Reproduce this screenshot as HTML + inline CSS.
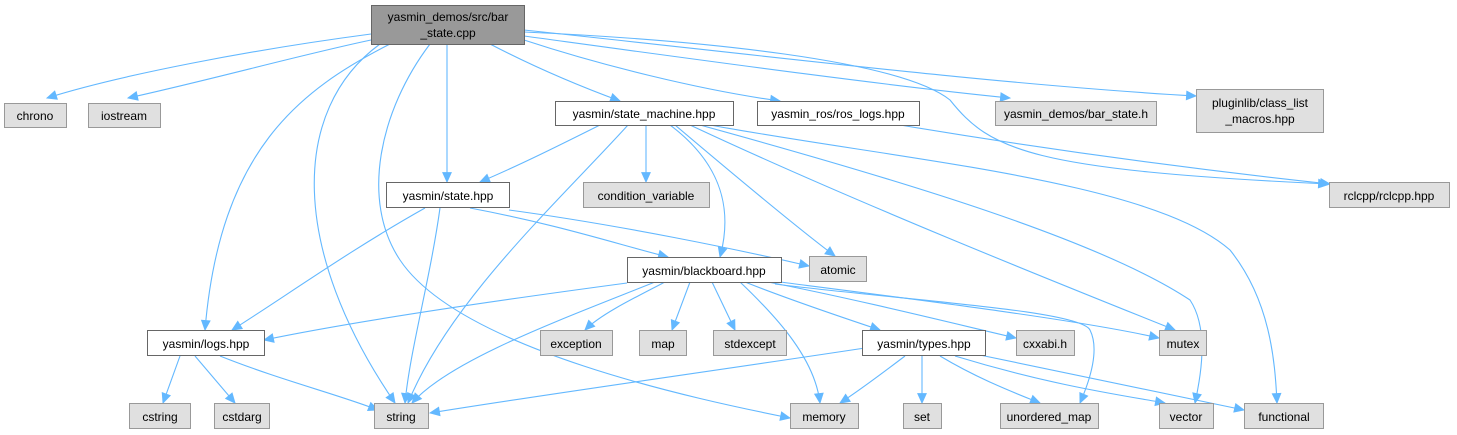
<!DOCTYPE html>
<html><head><meta charset="utf-8"><style>
html,body{margin:0;padding:0;background:#fff;}
svg{display:block;}
text{font-family:"Liberation Sans",sans-serif;font-size:12px;fill:#000;text-anchor:middle;}
.e{fill:none;stroke:#63b8ff;stroke-width:1.1;marker-end:url(#a);}
.g{fill:#e0e0e0;stroke:#999;}
.w{fill:#fff;stroke:#666;}
</style></head><body>
<svg width="1457" height="435" viewBox="0 0 1457 435">
<defs><marker id="a" viewBox="0 0 10 10" refX="9" refY="5" markerWidth="12" markerHeight="11" markerUnits="userSpaceOnUse" orient="auto"><path d="M0,0.5 L10,5 L0,9.5 z" fill="#63b8ff"/></marker></defs>
<path class="e" d="M371,34 C250,50 120,75 47,98"/>
<path class="e" d="M371,40 C300,55 210,80 128,98"/>
<path class="e" d="M390,44 C300,90 220,150 205,330"/>
<path class="e" d="M380,44 C290,110 290,250 395,403"/>
<path class="e" d="M430,44 C380,110 360,200 400,260 C460,350 700,400 790,418"/>
<path class="e" d="M447,44 L447,182"/>
<path class="e" d="M490,44 C540,70 590,90 620,101"/>
<path class="e" d="M524,40 C600,65 700,90 780,101"/>
<path class="e" d="M524,36 C700,60 880,85 1010,98"/>
<path class="e" d="M524,30 C760,55 1000,85 1196,96"/>
<path class="e" d="M524,32 C700,40 900,60 950,100 C990,150 1030,170 1328,184"/>
<path class="e" d="M600,125 C560,145 520,165 480,182"/>
<path class="e" d="M646,125 L646,182"/>
<path class="e" d="M628,125 C560,200 450,300 408,403"/>
<path class="e" d="M670,125 C730,170 730,220 720,257"/>
<path class="e" d="M675,125 C740,180 800,230 835,256"/>
<path class="e" d="M690,125 C850,200 1050,280 1175,330"/>
<path class="e" d="M700,125 C900,180 1100,240 1190,300 C1210,330 1200,380 1195,403"/>
<path class="e" d="M710,125 C900,160 1150,180 1230,250 C1270,300 1275,360 1277,403"/>
<path class="e" d="M900,125 C1050,150 1200,170 1330,184"/>
<path class="e" d="M425,208 C350,250 280,300 232,330"/>
<path class="e" d="M440,208 C430,280 410,350 405,403"/>
<path class="e" d="M470,208 C560,225 620,245 668,257"/>
<path class="e" d="M509,210 C620,225 740,250 809,266"/>
<path class="e" d="M627,283 C500,300 360,320 264,340"/>
<path class="e" d="M655,282 C560,320 450,360 412,403"/>
<path class="e" d="M665,282 C630,300 600,315 585,330"/>
<path class="e" d="M690,282 L672,330"/>
<path class="e" d="M712,282 L735,330"/>
<path class="e" d="M740,282 C780,320 815,360 820,403"/>
<path class="e" d="M745,282 C790,300 850,320 880,330"/>
<path class="e" d="M768,282 C860,300 960,325 1016,338"/>
<path class="e" d="M775,284 C900,300 1080,310 1090,330 C1100,350 1090,380 1080,403"/>
<path class="e" d="M780,282 C920,300 1080,320 1159,338"/>
<path class="e" d="M180,356 L163,403"/>
<path class="e" d="M195,356 L235,403"/>
<path class="e" d="M220,356 C280,380 340,395 378,410"/>
<path class="e" d="M865,348 C720,370 540,395 430,413"/>
<path class="e" d="M905,356 C880,375 860,390 840,403"/>
<path class="e" d="M922,356 L922,403"/>
<path class="e" d="M940,356 C980,380 1020,395 1040,403"/>
<path class="e" d="M955,356 C1050,385 1120,395 1165,403"/>
<path class="e" d="M975,354 C1100,380 1200,400 1244,410"/>
<rect x="371.5" y="5.5" width="153" height="39" fill="#999" stroke="#666"/>
<text x="448" y="21">yasmin_demos/src/bar</text><text x="448" y="37">_state.cpp</text>
<rect class="g" x="4.5" y="103.5" width="62" height="24"/><text x="35" y="120">chrono</text>
<rect class="g" x="88.5" y="103.5" width="72" height="24"/><text x="124" y="120">iostream</text>
<rect class="w" x="555.5" y="101.5" width="178" height="24"/><text x="644" y="118">yasmin/state_machine.hpp</text>
<rect class="w" x="757.5" y="101.5" width="162" height="24"/><text x="838" y="118">yasmin_ros/ros_logs.hpp</text>
<rect class="g" x="995.5" y="101.5" width="161" height="24"/><text x="1076" y="118">yasmin_demos/bar_state.h</text>
<rect class="g" x="1196.5" y="89.5" width="127" height="43"/><text x="1260" y="107">pluginlib/class_list</text><text x="1260" y="123">_macros.hpp</text>
<rect class="w" x="386.5" y="182.5" width="123" height="25"/><text x="448" y="200">yasmin/state.hpp</text>
<rect class="g" x="583.5" y="182.5" width="126" height="25"/><text x="646" y="200">condition_variable</text>
<rect class="g" x="1329.5" y="182.5" width="120" height="25"/><text x="1389" y="200">rclcpp/rclcpp.hpp</text>
<rect class="w" x="627.5" y="257.5" width="154" height="25"/><text x="704" y="275">yasmin/blackboard.hpp</text>
<rect class="g" x="809.5" y="256.5" width="57" height="25"/><text x="838" y="274">atomic</text>
<rect class="w" x="147.5" y="330.5" width="117" height="25"/><text x="206" y="348">yasmin/logs.hpp</text>
<rect class="g" x="540.5" y="330.5" width="72" height="25"/><text x="576" y="348">exception</text>
<rect class="g" x="639.5" y="330.5" width="47" height="25"/><text x="663" y="348">map</text>
<rect class="g" x="713.5" y="330.5" width="73" height="25"/><text x="750" y="348">stdexcept</text>
<rect class="w" x="862.5" y="330.5" width="123" height="25"/><text x="924" y="348">yasmin/types.hpp</text>
<rect class="g" x="1016.5" y="330.5" width="58" height="25"/><text x="1045" y="348">cxxabi.h</text>
<rect class="g" x="1159.5" y="330.5" width="47" height="25"/><text x="1183" y="348">mutex</text>
<rect class="g" x="129.5" y="403.5" width="61" height="25"/><text x="160" y="421">cstring</text>
<rect class="g" x="214.5" y="403.5" width="55" height="25"/><text x="242" y="421">cstdarg</text>
<rect class="g" x="374.5" y="403.5" width="54" height="25"/><text x="401" y="421">string</text>
<rect class="g" x="790.5" y="403.5" width="68" height="25"/><text x="824" y="421">memory</text>
<rect class="g" x="903.5" y="403.5" width="38" height="25"/><text x="922" y="421">set</text>
<rect class="g" x="1000.5" y="403.5" width="98" height="25"/><text x="1049" y="421">unordered_map</text>
<rect class="g" x="1159.5" y="403.5" width="54" height="25"/><text x="1186" y="421">vector</text>
<rect class="g" x="1244.5" y="403.5" width="79" height="25"/><text x="1284" y="421">functional</text>
</svg>
</body></html>
